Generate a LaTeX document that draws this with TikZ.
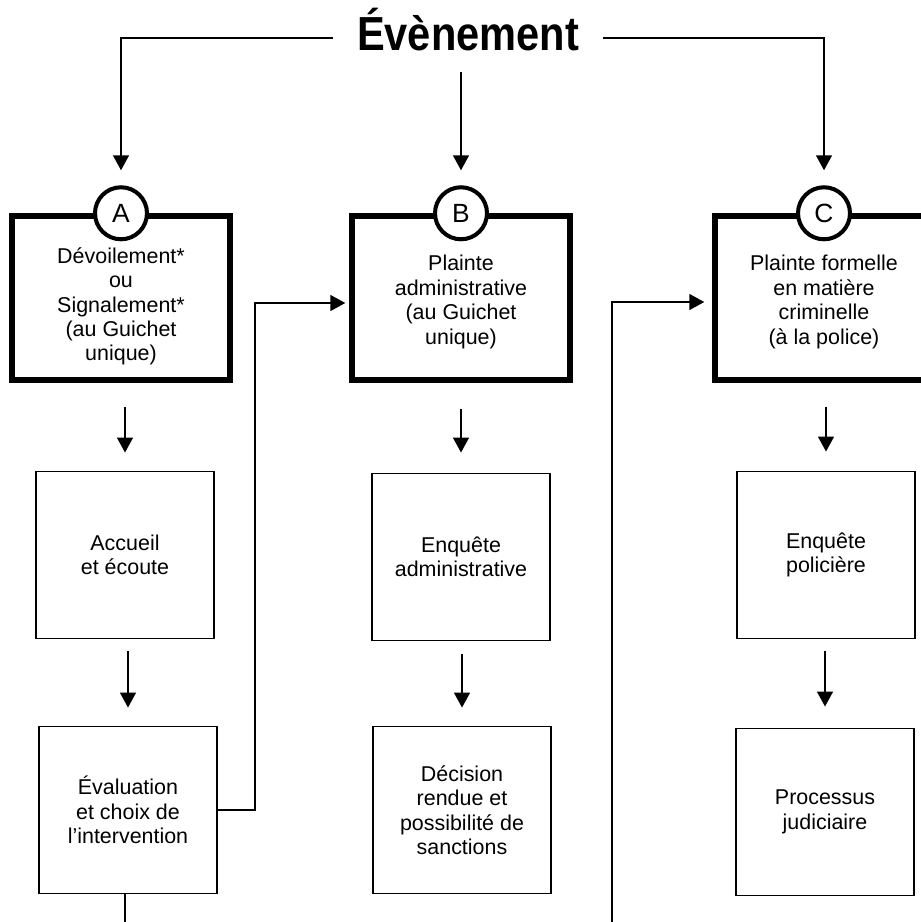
\documentclass[tikz,border=0pt]{standalone}
\usepackage{fontspec}
\setmainfont{Liberation Sans}
\newfontfamily\titlefont[FakeStretch=0.87]{Liberation Sans Bold}
\usetikzlibrary{arrows.meta}

\tikzset{
  every node/.style={font=\fontsize{12.2}{13.9}\selectfont},
  etape/.style={draw, line width=3.1pt, minimum width=43.6mm, minimum height=32.8mm, align=center, text height=54.9pt},
  suite/.style={draw, line width=1.1pt, minimum width=35.6mm, minimum height=33.4mm, align=center},
  lettre/.style={draw, circle, line width=2.3pt, fill=white, minimum size=10.4mm, inner sep=0pt, font=\fontsize{15}{17}\selectfont},
  fleche/.style={line width=0.9pt, -{Triangle[length=3mm,width=3.2mm]}},
}

\begin{document}
\begin{tikzpicture}[x=0.2mm, y=-0.2mm]
            \useasboundingbox (0,0) rectangle (921,922);
            \clip (0,0) rectangle (921,922);
            \node[font=\titlefont\fontsize{27.2}{30}\selectfont, anchor=base, inner xsep=4.8mm, inner ysep=4.2mm] (evt) at (468,50) {Évènement};
            % trois voies
            \node[etape, text height=74.2pt] (A) at (121,298) {Dévoilement*\\ou\\Signalement*\\(au Guichet\\unique)};
            \node[lettre] (cA) at (A.north) {A};
            \node[etape] (B) at (461,298) {Plainte\\administrative\\(au Guichet\\unique)};
            \node[lettre] (cB) at (B.north) {B};
            \node[etape] (C) at (824,298) {Plainte formelle\\en matière\\criminelle\\(à la police)};
            \node[lettre] (cC) at (C.north) {C};
            \node[suite] (accueil) at (125,555) {Accueil\\et écoute};
            \node[suite] (enqadm) at (461,557) {Enquête\\administrative};
            \node[suite] (enqpol) at (826,555) {Enquête\\policière};
            \node[suite] (evaluation) at (128,810) {Évaluation\\et choix de\\l’intervention};
            \node[suite] (decision) at (462,810) {Décision\\rendue et\\possibilité de\\sanctions};
            \node[suite] (processus) at (825,812) {Processus\\judiciaire};
            \coordinate (basA) at (125,922);
            \coordinate (basC) at (612,922);
            \draw[fleche, shorten >=3mm] ([yshift=-1.8mm]evt.west) -| (cA);
            \draw[fleche, shorten >=3mm] (evt.south -| cB) -- (cB);
            \draw[fleche, shorten >=3mm] ([yshift=-1.8mm]evt.east) -| (cC);
            \draw[fleche, shorten <=4.8mm, shorten >=3.6mm] (A.south -| accueil) -- (accueil);
            \draw[fleche, shorten <=5.2mm, shorten >=4mm] (B.south -| enqadm) -- (enqadm);
            \draw[fleche, shorten <=4.8mm, shorten >=3.8mm] (C.south -| enqpol) -- (enqpol);
            \draw[fleche, shorten <=2.4mm, shorten >=3.6mm] (accueil.south -| evaluation) -- (evaluation);
            \draw[fleche, shorten <=2.6mm, shorten >=3.6mm] (enqadm.south -| decision) -- (decision);
            \draw[fleche, shorten <=2.4mm, shorten >=4.2mm] (enqpol.south -| processus) -- (processus);
            % renvois
            \draw[fleche, shorten >=0.8mm] (evaluation.east) -- ++(37,0) |- ([yshift=-1mm]B.west);
            \draw[fleche, shorten >=1.6mm] (basC) |- ([yshift=-0.8mm]C.west);
            \draw[line width=0.9pt] (evaluation.south -| basA) -- (basA);
        \end{tikzpicture}
\end{document}
